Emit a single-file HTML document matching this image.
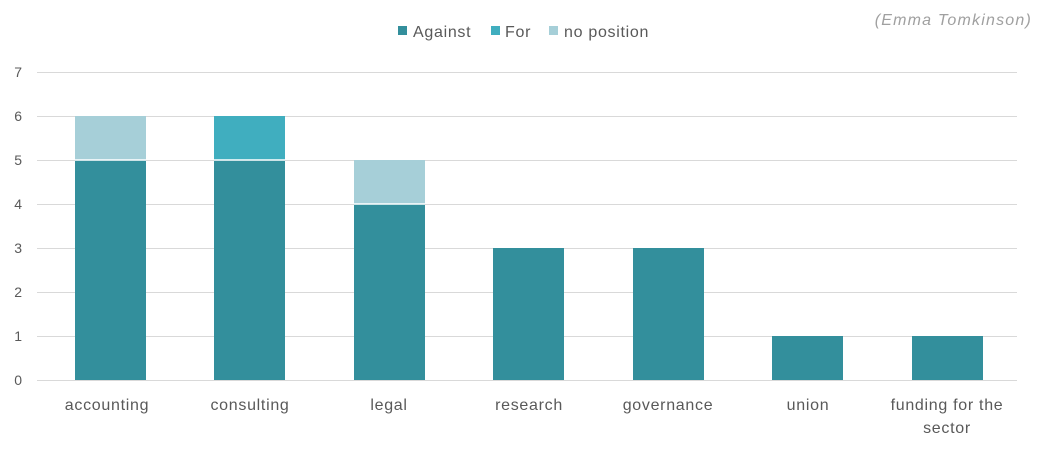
<!DOCTYPE html>
<html><head><style>
body{margin:0;background:#fff;width:1047px;height:451px;overflow:hidden}
svg text{font-family:"Liberation Sans",sans-serif;fill:#595959}
</style></head><body>
<svg width="1047" height="451" viewBox="0 0 1047 451">
<g stroke="#d9d9d9" stroke-width="1">
<line x1="37" x2="1017" y1="72.5" y2="72.5"/><line x1="37" x2="1017" y1="116.5" y2="116.5"/>
<line x1="37" x2="1017" y1="160.5" y2="160.5"/><line x1="37" x2="1017" y1="204.5" y2="204.5"/>
<line x1="37" x2="1017" y1="248.5" y2="248.5"/><line x1="37" x2="1017" y1="292.5" y2="292.5"/>
<line x1="37" x2="1017" y1="336.5" y2="336.5"/><line x1="37" x2="1017" y1="380.5" y2="380.5"/>
</g>
<g font-size="14" text-anchor="end">
<text x="22" y="77">7</text><text x="22" y="121">6</text><text x="22" y="165">5</text><text x="22" y="209">4</text>
<text x="22" y="253">3</text><text x="22" y="297">2</text><text x="22" y="341">1</text><text x="22" y="385">0</text>
</g>
<g fill="#338f9c">
<rect x="75" y="160" width="71" height="220"/><rect x="214" y="160" width="71" height="220"/>
<rect x="354" y="204" width="71" height="176"/><rect x="493" y="248" width="71" height="132"/>
<rect x="633" y="248" width="71" height="132"/><rect x="772" y="336" width="71" height="44"/>
<rect x="912" y="336" width="71" height="44"/>
</g>
<rect x="75" y="116" width="71" height="44" fill="#a6cfd8"/>
<rect x="214" y="116" width="71" height="44" fill="#40aebf"/>
<rect x="354" y="160" width="71" height="44" fill="#a6cfd8"/>
<g stroke="#fff" stroke-width="1.5"><line x1="75" x2="146" y1="160" y2="160"/><line x1="214" x2="285" y1="160" y2="160"/><line x1="354" x2="425" y1="204" y2="204"/></g>
<g font-size="16" text-anchor="middle" letter-spacing="0.7">
<text x="107" y="410">accounting</text><text x="250" y="410">consulting</text><text x="389" y="410">legal</text>
<text x="529" y="410">research</text><text x="668" y="410">governance</text><text x="808" y="410">union</text>
<text x="947" y="410">funding for the</text><text x="947" y="433">sector</text>
</g>
<g font-size="16" letter-spacing="0.7">
<rect x="398" y="26" width="9" height="9" fill="#338f9c"/>
<text x="413" y="37">Against</text>
<rect x="491" y="26" width="9" height="9" fill="#40aebf"/>
<text x="505" y="37">For</text>
<rect x="549" y="26" width="9" height="9" fill="#a6cfd8"/>
<text x="564" y="37">no position</text>
</g>
<text x="1032" y="25" font-size="16" letter-spacing="1.2" font-style="italic" text-anchor="end" style="fill:#a0a0a0">(Emma Tomkinson)</text>
</svg>
</body></html>
